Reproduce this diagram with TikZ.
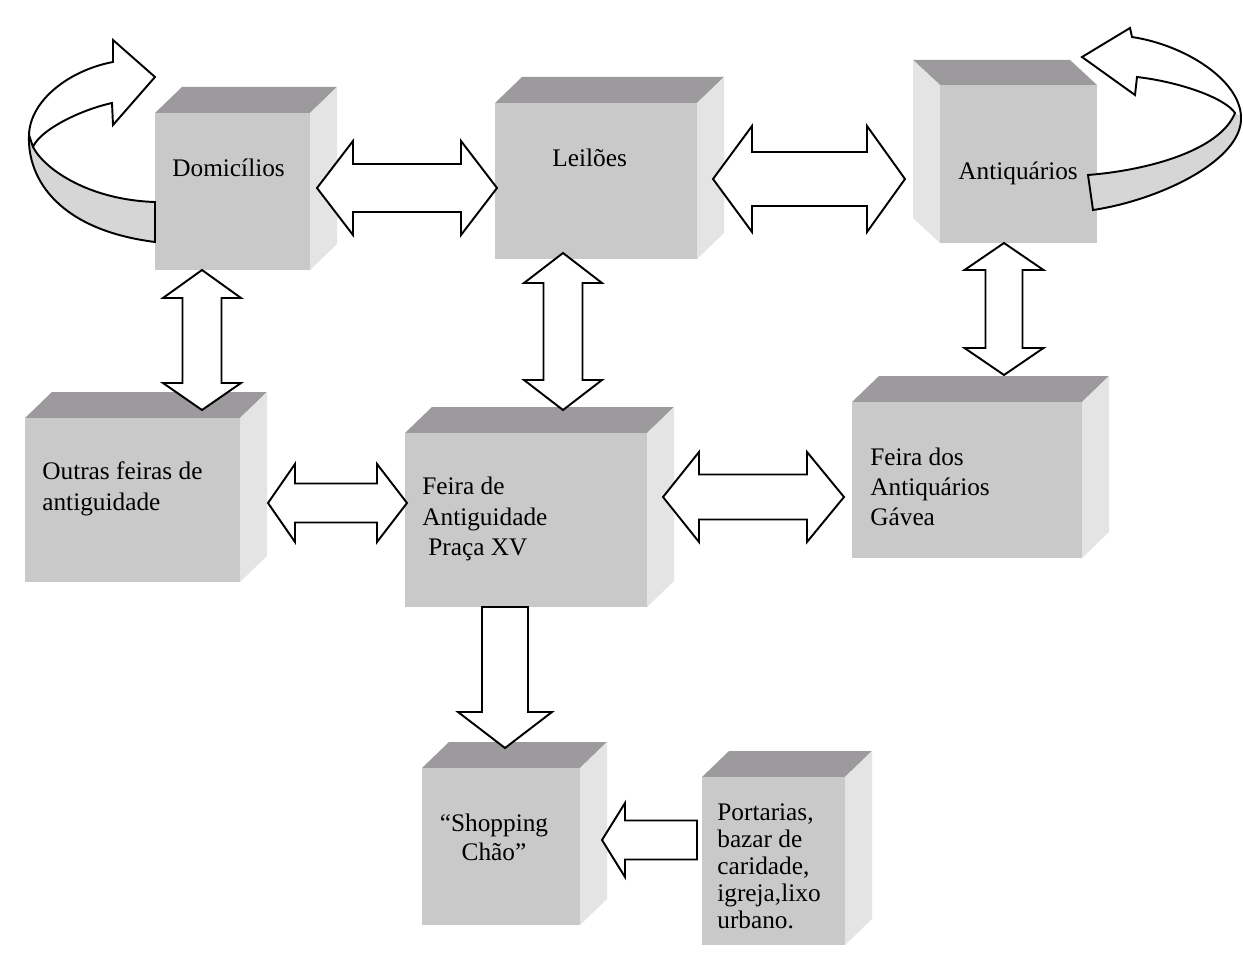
\documentclass[tikz,border=0pt]{standalone}
\usepackage{fontspec}
\setmainfont{Liberation Serif}
\usetikzlibrary{fit}
\definecolor{frontc}{HTML}{C9C9C9}
\definecolor{topc}{HTML}{9C9A9C}
\definecolor{sidec}{HTML}{E4E4E4}
\definecolor{bandc}{HTML}{D6D6D6}
\tikzset{
  frontface/.style={fill=frontc, draw=none, inner sep=0pt},
  blockarr/.style={draw=black, fill=white, line width=1.1pt, line join=miter},
  lbl/.style={inner sep=0pt, font=\fontsize{14.4}{17.2}\selectfont, align=left},
}
% box with depth up-right: name, x1,y1,x2,y2 (front face)
\newcommand\cubeR[5]{%
  \fill[topc] (#2,#3) -- (#2+27,#3-26) -- (#4+27,#3-26) -- (#4,#3) -- cycle;
  \fill[sidec] (#4,#3) -- (#4+27,#3-26) -- (#4+27,#5-26) -- (#4,#5) -- cycle;
  \node[frontface, fit={(#2,#3) (#4,#5)}] (#1) {};
}
% box with depth up-left
\newcommand\cubeL[5]{%
  \fill[topc] (#2,#3) -- (#2-27,#3-25) -- (#4-27,#3-25) -- (#4,#3) -- cycle;
  \fill[sidec] (#2,#3) -- (#2-27,#3-25) -- (#2-27,#5-25) -- (#2,#5) -- cycle;
  \node[frontface, fit={(#2,#3) (#4,#5)}] (#1) {};
}
% horizontal double block arrow: tipL, baseL, baseR, tipR, yc, head half, shaft half
\newcommand\hdarrow[7]{%
  \draw[blockarr] (#1,#5) -- (#2,#5-#6) -- (#2,#5-#7) -- (#3,#5-#7) -- (#3,#5-#6) -- (#4,#5)
    -- (#3,#5+#6) -- (#3,#5+#7) -- (#2,#5+#7) -- (#2,#5+#6) -- cycle;}
% vertical double block arrow: tipT, baseT, baseB, tipB, xc, head half, shaft half
\newcommand\vdarrow[7]{%
  \draw[blockarr] (#5,#1) -- (#5-#6,#2) -- (#5-#7,#2) -- (#5-#7,#3) -- (#5-#6,#3) -- (#5,#4)
    -- (#5+#6,#3) -- (#5+#7,#3) -- (#5+#7,#2) -- (#5+#6,#2) -- cycle;}
\begin{document}
\begin{tikzpicture}[x=0.02cm,y=-0.02cm]
\useasboundingbox[fill=white] (0,0) rectangle (1243,953);

% boxes
\cubeR{dom}{155}{113}{310}{270}
\cubeR{lei}{495}{103}{697}{259}
\cubeL{ant}{940}{85}{1097}{243}
\cubeR{out}{25}{418}{240}{582}
\cubeR{fei}{405}{433}{647}{607}
\cubeR{gav}{852}{402}{1082}{558}
\cubeR{sho}{422}{768}{580}{925}
\cubeR{por}{702}{777}{845}{945}

% labels
\node[lbl, anchor=west] (domt) at (172,168) {Domicílios};
\node[lbl, anchor=west] (leit) at (552,158) {Leilões};
\node[lbl, anchor=west] (antt) at (958,173) {Antiquários};
\node[lbl, anchor=west, font=\fontsize{14.4}{18}\selectfont] (outt) at (42,489) {Outras feiras de\\antiguidade};
\node[lbl, anchor=west] (feit) at (422,519) {Feira de\\Antiguidade\\\hspace{0.12cm}Praça XV};
\node[lbl, anchor=west] (gavt) at (870,487) {Feira dos\\Antiquários\\Gávea};
\node[lbl, align=center, font=\fontsize{14.4}{16.5}\selectfont] (shot) at (494,837) {“Shopping\\Chão”};
\node[lbl, anchor=west, font=\fontsize{14.4}{15.4}\selectfont] (port) at (717,866) {Portarias,\\bazar de\\caridade,\\igreja,lixo\\urbano.};

% double arrows
\hdarrow{317}{353}{461}{497}{188}{47}{24}
\hdarrow{713}{752}{867}{905}{179}{53}{27}
\vdarrow{270}{298}{383}{410}{202}{39}{19.5}
\vdarrow{253}{283}{380}{410}{563}{39}{19.5}
\vdarrow{243}{270}{348}{375}{1004}{39.5}{18.5}
\hdarrow{268}{295}{377}{407}{503}{39}{19.5}
\hdarrow{663}{699}{807}{844}{497}{45}{22.5}

% single arrows
\draw[blockarr] (505,748) -- (458,712) -- (482,712) -- (482,607) -- (528,607) -- (528,712) -- (552,712) -- cycle;
\draw[blockarr] (602,840) -- (625,803) -- (625,820.5) -- (697,820.5) -- (697,859.5) -- (625,859.5) -- (625,877) -- cycle;

% left curved arrow
\fill[bandc] (29,135) .. controls (27,180) and (60,230) .. (155,242) -- (155,202)
  .. controls (90,200) and (45,170) .. (33,147) -- cycle;
\draw[line width=1.1pt, line join=miter] (155,242) .. controls (60,230) and (27,180) .. (29,135)
  .. controls (30,100) and (70,70) .. (113,62) -- (113,40) -- (155,77) -- (113,125) -- (112,103)
  .. controls (80,110) and (40,130) .. (33,147) .. controls (45,170) and (90,200) .. (155,202) -- cycle;
\draw[line width=1.1pt] (29,135) -- (33,147);

% right curved arrow
\fill[bandc] (1242,117) .. controls (1243,160) and (1160,200) .. (1093,210) -- (1088,175)
  .. controls (1150,170) and (1220,150) .. (1235,113) -- cycle;
\draw[line width=1.1pt, line join=miter] (1093,210) .. controls (1160,200) and (1243,160) .. (1241,117)
  .. controls (1240,80) and (1185,45) .. (1132,37) -- (1130,28) -- (1082,57) -- (1135,95) -- (1137,77)
  .. controls (1180,82) and (1225,98) .. (1235,113) .. controls (1220,150) and (1150,170) .. (1088,175) -- cycle;
\end{tikzpicture}
\end{document}
